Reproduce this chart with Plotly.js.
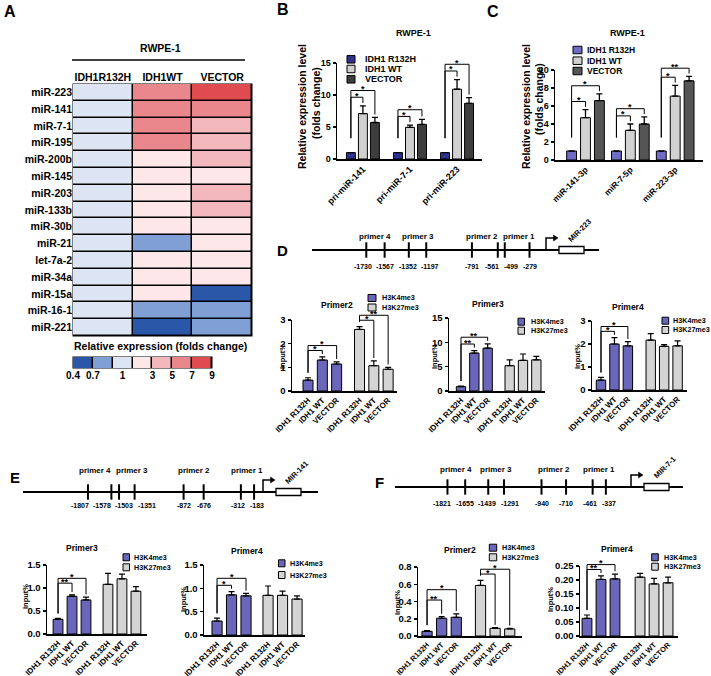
<!DOCTYPE html>
<html><head><meta charset="utf-8">
<script src="https://cdn.plot.ly/plotly-3.0.1.min.js"></script>
<style>html,body{margin:0;padding:0;background:#fff}#chart{width:711px;height:676px}</style>
</head><body><div id="chart"></div>
<script>
// ================= DATA =================
// Panel A heatmap (fold change, RWPE-1)
const heatRows = ['miR-223','miR-141','miR-7-1','miR-195','miR-200b','miR-145','miR-203','miR-133b','miR-30b','miR-21','let-7a-2','miR-34a','miR-15a','miR-16-1','miR-221'];
const heatCols = ['IDH1R132H','IDH1WT','VECTOR'];
const foldR132H = [1,1,1,1,1,1,1,1,1,1,1,1,1,1,1];
const foldWT    = [7,7,7,7,3,3,3,3,3,0.7,3,3,3,0.7,0.4];
const foldVEC   = [9,7,5,5,5,3,5,5,3,3,3,3,0.4,0.7,0.7];
const foldLevels = [0.4,0.7,1,3,5,7,9];
const foldLevelLabels = ['0.4','0.7','1','3','5','7','9'];
const foldColors = ['#2b57a9','#809fd4','#dde5f4','#fde7e9','#f2b8bc','#e9878c','#e04b4f'];

// Panel B (pri-miRNA)
const exprSeries = ['IDH1 R132H','IDH1 WT','VECTOR'];
const bCats = ['pri-miR-141','pri-miR-7-1','pri-miR-223'];
const bR132H = [1,1,1],        bR132Herr = [0,0,0];
const bWT   = [7.1,4.95,10.9], bWTerr  = [1.2,0.35,1.5];
const bVEC  = [5.7,5.4,8.7],   bVECerr = [0.8,0.8,0.9];
const bSig  = [['*','*'],['*','*'],['*','*']];

// Panel C (mature miRNA)
const cCats = ['miR-141-3p','miR-7-5p','miR-223-3p'];
const cR132H = [1,1,1],       cR132Herr = [0,0,0];
const cWT   = [4.7,3.3,7.1],  cWTerr  = [0.9,0.7,1.2];
const cVEC  = [6.6,4.0,8.8],  cVECerr = [0.75,0.8,0.5];
const cSig  = [['*','*'],['*','*'],['*','**']];

// ChIP panels
const chipLabels = ['IDH1 R132H','IDH1 WT','VECTOR'];
const chipSeries = ['H3K4me3','H3K27me3'];
const primerNames = ['primer 4','primer 3','primer 2','primer 1'];

// D: MIR-223 promoter
const dSites = [-1730,-1567,-1352,-1197,-791,-561,-499,-279];
const dP2K4 = [0.46,1.31,1.14],  dP2K4err = [0.1,0.13,0.09];
const dP2K27 = [2.6,1.07,0.92],  dP2K27err = [0.12,0.2,0.08];
const dP2Sig = [['*','*'],['*','**']];
const dP3K4 = [0.9,7.8,8.8],     dP3K4err = [0.1,0.5,0.9];
const dP3K27 = [5.2,6.3,6.4],    dP3K27err = [1.2,1.3,0.7];
const dP3Sig = [['**','**'],null];
const dP4K4 = [0.43,2.0,1.92],   dP4K4err = [0.12,0.28,0.18];
const dP4K27 = [2.17,1.9,1.92],  dP4K27err = [0.28,0.07,0.22];
const dP4Sig = [['*','*'],null];

// E: MIR-141 promoter
const eSites = [-1807,-1578,-1503,-1351,-872,-676,-312,-183];
const eP3K4 = [0.32,0.82,0.74],  eP3K4err = [0.02,0.03,0.06];
const eP3K27 = [1.08,1.2,0.93],  eP3K27err = [0.24,0.1,0.1];
const eP3Sig = [['**','*'],null];
const eP4K4 = [0.3,0.86,0.84],   eP4K4err = [0.06,0.07,0.05];
const eP4K27 = [0.85,0.85,0.77], eP4K27err = [0.2,0.09,0.07];
const eP4Sig = [['*','*'],null];

// F: MIR-7-1 promoter
const fSites = [-1821,-1655,-1439,-1291,-940,-710,-461,-337];
const fP2K4 = [0.054,0.206,0.217], fP2K4err = [0.008,0.019,0.04];
const fP2K27 = [0.586,0.089,0.082], fP2K27err = [0.06,0.008,0.007];
const fP2Sig = [['**','*'],['*','*']];
const fP4K4 = [0.063,0.202,0.204], fP4K4err = [0.012,0.013,0.017];
const fP4K27 = [0.21,0.186,0.19],  fP4K27err = [0.014,0.02,0.02];
const fP4Sig = [['**','*'],null];

// ================= HELPERS =================
const W=711,H=676;
const px=x=>x/W, py=y=>1-y/H;
const FONT='Liberation Sans, Arial, Helvetica, sans-serif';
const font=(s)=>({family:FONT,size:s,color:'#000',weight:'bold'});
const layout={width:W,height:H,margin:{l:0,r:0,t:0,b:0},showlegend:false,
  paper_bgcolor:'#fff',plot_bgcolor:'rgba(0,0,0,0)',font:font(10),shapes:[],annotations:[]};
const traces=[];
let axN=0;
const clamp=v=>Math.max(0,Math.min(1,v));
function newAxes(xd,yd,xo,yo){
  axN++; const s=axN===1?'':String(axN);
  layout['xaxis'+s]=Object.assign({domain:[clamp(px(xd[0])),clamp(px(xd[1]))],anchor:'y'+s,fixedrange:true},xo);
  layout['yaxis'+s]=Object.assign({domain:[clamp(py(yd[1])),clamp(py(yd[0]))],anchor:'x'+s,fixedrange:true},yo);
  return {x:'x'+s,y:'y'+s};
}
function txt(x,y,t,size,o){
  layout.annotations.push(Object.assign({x:px(x),y:py(y),xref:'paper',yref:'paper',text:t,showarrow:false,
    font:font(size),xanchor:'center',yanchor:'middle'},o||{}));
}
function lineS(x0,y0,x1,y1,w){
  layout.shapes.push({type:'line',xref:'paper',yref:'paper',x0:px(x0),y0:py(y0),x1:px(x1),y1:py(y1),line:{color:'#000',width:w||1}});
}
function rectS(x0,y0,x1,y1,fill,lw,layer){
  layout.shapes.push({type:'rect',xref:'paper',yref:'paper',x0:px(x0),y0:py(y0),x1:px(x1),y1:py(y1),
    fillcolor:fill,line:{color:'#000',width:lw===undefined?1:lw},layer:layer||'above'});
}
// push labels apart so they do not overlap (keeps order)
function spread(xs,widths,gap){
  const idx=xs.map((x,i)=>i).sort((a,b)=>xs[a]-xs[b]);
  const p=xs.slice();
  for(let it=0;it<300;it++){
    let moved=false;
    for(let k=0;k<idx.length-1;k++){
      const a=idx[k],b=idx[k+1];
      const need=(widths[a]+widths[b])/2+gap, d=p[b]-p[a];
      if(d<need-0.01){const s=(need-d)/2;p[a]-=s;p[b]+=s;moved=true;}
    }
    if(!moved) break;
  }
  return p;
}
const xBase={showline:true,linecolor:'#000',linewidth:1.5,ticks:'',showgrid:false,zeroline:false,tickangle:-45};
const yBase={showline:true,linecolor:'#000',linewidth:1.5,ticks:'outside',ticklen:3,tickwidth:1.5,tickcolor:'#000',
  showgrid:false,zeroline:false};
function mapX(c,v){return c.x0+(v-c.xr[0])/(c.xr[1]-c.xr[0])*(c.x1-c.x0);}
function mapY(c,v){return c.yBot-v/c.ymax*(c.yBot-c.yTop);}
function brackets(c,xs,tops,labels,o){
  const R=c.ymax;
  const h1=Math.max(tops[0],tops[1])+o.pad*R;
  const h2=Math.max(h1+o.step*R,Math.max(tops[0],tops[2])+o.pad*R);
  const hs=[h1,h2];
  const leftEnd=tops[0]+o.ld*R;
  [1,2].forEach((j,k)=>{
    if(!labels[k]) return;
    const xl=mapX(c,xs[0]),xr=mapX(c,xs[j]);
    const yh=mapY(c,hs[k]),yl=mapY(c,Math.min(leftEnd,hs[k])),yr=mapY(c,Math.min(tops[j]+o.rd*R,hs[k]));
    layout.shapes.push({type:'path',xref:'paper',yref:'paper',
      path:`M${px(xl)},${py(yl)} L${px(xl)},${py(yh)} L${px(xr)},${py(yh)} L${px(xr)},${py(yr)}`,
      line:{color:'#000',width:1}});
    txt((xl+xr)/2,yh-1.5,labels[k],9);
  });
}
function legendBox(x0,x1,ys,tx,items,fs,sh){
  items.forEach((it,i)=>{
    rectS(x0,ys[i]-sh/2,x1,ys[i]+sh/2,it.color,1);
    txt(tx,ys[i],it.name,fs,{xanchor:'left'});
  });
}
function errY(e,th,w){return {type:'data',array:e,arrayminus:e.map(()=>0),symmetric:false,color:'#000',thickness:th||1.2,width:w||3};}

function exprChart(c){
  const ax=newAxes([c.x0,c.x1],[c.yTop,c.yBot],
    Object.assign({},xBase,{type:'category',range:c.xr,tickfont:font(c.xfs)}),
    Object.assign({},yBase,{range:[0,c.ymax],dtick:c.dtick,tickfont:font(c.yfs)}));
  c.series.forEach((s,i)=>{
    traces.push({type:'bar',x:c.cats,y:s.v,width:c.bw,offset:(i-1)*c.slot-c.bw/2,xaxis:ax.x,yaxis:ax.y,
      marker:{color:s.color,line:{color:'#000',width:1}},error_y:errY(s.e,1.3,3),hoverinfo:'skip'});
  });
  c.cats.forEach((cat,g)=>{
    const xs=[0,1,2].map(i=>g+(i-1)*c.slot);
    const tops=c.series.map(s=>s.v[g]+s.e[g]);
    brackets(c,xs,tops,c.sig[g],c.bo);
  });
}
const K4C='#6a67bb', GREYC='#d4d4d4';
function chipChart(c){
  const pos=[[0,1,2],[0,1,2].map(v=>v+c.gs)];
  const ax=newAxes([c.x0,c.x1],[c.yTop,c.yBot],
    Object.assign({},xBase,{range:c.xr,tickmode:'array',tickvals:pos[0].concat(pos[1]),
      ticktext:chipLabels.concat(chipLabels),tickfont:font(c.xfs)}),
    Object.assign({},yBase,{range:[0,c.ymax],dtick:c.dtick,tickformat:c.fmt,tickfont:font(c.yfs)}));
  const ser=[{v:c.k4,e:c.k4e,color:K4C},{v:c.k27,e:c.k27e,color:GREYC}];
  ser.forEach((s,g)=>{
    traces.push({type:'bar',x:pos[g],y:s.v,width:0.7,offset:-0.35,xaxis:ax.x,yaxis:ax.y,
      marker:{color:s.color,line:{color:'#000',width:1}},error_y:errY(s.e,1.2,3),hoverinfo:'skip'});
    if(c.sig[g]) brackets(c,pos[g],s.v.map((v,i)=>v+s.e[i]),c.sig[g],(c.bo&&c.bo[g])||BO_CHIP);
  });
  txt(c.title[0],c.title[1],c.name,8.5);
  txt(c.yt[0],c.yt[1],'Input%',7.5,{textangle:-90});
  legendBox(c.leg[0],c.leg[1],c.leg[2],c.leg[3],[{name:chipSeries[0],color:K4C},{name:chipSeries[1],color:GREYC}],7.2,7);
}
const BO_EXPR={pad:0.09,step:0.07,ld:0.15,rd:0.03};
const BO_CHIP={pad:0.09,step:0.07,ld:0.07,rd:0.04};

function schematic(c){
  const ax=newAxes([c.x0,c.x1],[c.y-8,c.y+8],{range:c.bpRange,visible:false},{range:[-1,1],visible:false});
  const bp2px=v=>c.x0+(v-c.bpRange[0])/(c.bpRange[1]-c.bpRange[0])*(c.x1-c.x0);
  lineS(c.x0,c.y,c.x1,c.y,2);
  traces.push({type:'scatter',mode:'markers',x:c.sites,y:c.sites.map(()=>0),xaxis:ax.x,yaxis:ax.y,cliponaxis:false,
    marker:{symbol:'line-ns',size:11,color:'#000',line:{width:2,color:'#000'}},hoverinfo:'skip'});
  const sLab=c.sites.map(s=>String(s));
  const sPos=spread(c.sites.map(bp2px),sLab.map(t=>t.length*3.9),3);
  sLab.forEach((t,i)=>txt(sPos[i],c.y+c.sdy,t,7));
  const pPos=spread(primerNames.map((p,k)=>bp2px((c.sites[2*k]+c.sites[2*k+1])/2)),primerNames.map(()=>31),6);
  primerNames.forEach((p,k)=>txt(pPos[k],c.y+c.pdy,p,8));
  const t=c.tss,yy=c.y;
  layout.shapes.push({type:'path',xref:'paper',yref:'paper',
    path:`M${px(t)},${py(yy)} L${px(t)},${py(yy-12)} L${px(t+9)},${py(yy-12)}`,line:{color:'#000',width:1.5}});
  layout.shapes.push({type:'path',xref:'paper',yref:'paper',
    path:`M${px(t+12)},${py(yy-12)} L${px(t+7.5)},${py(yy-15)} L${px(t+7.5)},${py(yy-9)} Z`,fillcolor:'#000',line:{color:'#000',width:0.5}});
  rectS(t+13,yy-3.5,t+38,yy+3.5,'#fff',1.3);
  txt(t+33.5,yy-20,c.gene,7.5,{textangle:-45});
  txt(c.letter[0],c.letter[1],c.letter[2],15);
}

// ================= PANEL A =================
txt(10,12,'A',16);
txt(160,48,'RWPE-1',10.5);
lineS(72,60,245,60,1.5);
rectS(72.5,83.5,252.5,336.5,'#000',0,'below');
const hAx=newAxes([73,252],[84,336],
  {type:'category',side:'top',showline:false,showgrid:false,zeroline:false,ticks:'',tickfont:font(10.5)},
  {type:'category',autorange:'reversed',showline:false,showgrid:false,zeroline:false,ticks:'',tickfont:font(10.5)});
const csStep=[];
foldColors.forEach((col,i)=>{csStep.push([i/foldColors.length,col]);csStep.push([(i+1)/foldColors.length,col]);});
const zIdx=heatRows.map((r,i)=>[foldR132H[i],foldWT[i],foldVEC[i]].map(v=>foldLevels.indexOf(v)));
traces.push({type:'heatmap',x:heatCols,y:heatRows,z:zIdx,zmin:-0.5,zmax:foldLevels.length-0.5,colorscale:csStep,
  showscale:false,xgap:1.5,ygap:1.5,xaxis:hAx.x,yaxis:hAx.y,hoverinfo:'skip'});
txt(160,346,'Relative expression (folds change)',10.5);
rectS(72.5,356.5,212.5,368.5,'#000',0,'below');
const cbAx=newAxes([73,212],[357,368],
  {range:[-0.5,foldLevels.length-0.5],tickmode:'array',tickvals:[-0.5,0.5,2,3.5,4.5,5.5,6.5],ticktext:foldLevelLabels,
   ticks:'',showline:false,showgrid:false,zeroline:false,tickfont:font(10)},
  {range:[-0.5,0.5],visible:false});
traces.push({type:'heatmap',x:foldLevels.map((v,i)=>i),y:[0],z:[foldLevels.map((v,i)=>i)],zmin:-0.5,zmax:foldLevels.length-0.5,
  colorscale:csStep,showscale:false,xgap:1.5,ygap:0,xaxis:cbAx.x,yaxis:cbAx.y,hoverinfo:'skip'});

// ================= PANEL B =================
txt(283,10,'B',16);
txt(413,33,'RWPE-1',9);
const bCfg={x0:337,x1:482,yTop:63,yBot:159,xr:[-0.55,2.53],ymax:15,dtick:5,slot:0.255,bw:0.19,xfs:9,yfs:9,
  cats:bCats,series:[{v:bR132H,e:bR132Herr,color:'#2e318f'},{v:bWT,e:bWTerr,color:'#d0d0d0'},{v:bVEC,e:bVECerr,color:'#3d3d3d'}],
  sig:bSig,bo:BO_EXPR};
exprChart(bCfg);
txt(302,107,'Relative expression level',10.5,{textangle:-90});
txt(316,103,'(folds change)',10.5,{textangle:-90});
legendBox(347,355,[59.3,69,79.3],363,exprSeries.map((n,i)=>({name:n,color:bCfg.series[i].color})),9,7.5);

// ================= PANEL C =================
txt(493,12,'C',16);
txt(627,33,'RWPE-1',9);
const cCfg={x0:555,x1:703,yTop:70,yBot:160,xr:[-0.68,2.62],ymax:10,dtick:2,slot:0.31,bw:0.22,xfs:8.5,yfs:9,
  cats:cCats,series:[{v:cR132H,e:cR132Herr,color:'#6e6cc4'},{v:cWT,e:cWTerr,color:'#d2d2d2'},{v:cVEC,e:cVECerr,color:'#555555'}],
  sig:cSig,bo:BO_EXPR};
exprChart(cCfg);
txt(526,107,'Relative expression level',10.5,{textangle:-90});
txt(539,99,'(folds change)',10.5,{textangle:-90});
legendBox(573,582,[50,60.7,71],585,exprSeries.map((n,i)=>({name:n,color:cCfg.series[i].color})),8.5,7.5);

// ================= PANEL D =================
schematic({x0:312,x1:599,y:250,bpRange:[-2212.6,338.7],sites:dSites,tss:546,gene:'MIR-223',sdy:16,pdy:-14,letter:[282,250,'D']});
chipChart({name:'Primer2',x0:292,x1:397,yTop:320,yBot:391,xr:[-1.12,6.22],gs:3.6,ymax:3,dtick:1,fmt:'d',xfs:8,yfs:9.5,
  k4:dP2K4,k4e:dP2K4err,k27:dP2K27,k27e:dP2K27err,sig:dP2Sig,title:[337,305],yt:[282,357],leg:[368,376,[298,307.5],379.5]});
chipChart({name:'Primer3',x0:449,x1:545,yTop:318,yBot:391,xr:[-0.9,6.3],gs:3.65,ymax:15,dtick:5,fmt:'d',xfs:8,yfs:9.5,
  k4:dP3K4,k4e:dP3K4err,k27:dP3K27,k27e:dP3K27err,sig:dP3Sig,title:[488,304],yt:[434,357],leg:[518,524.5,[321.7,330.7],528.5]});
chipChart({name:'Primer4',x0:592,x1:687,yTop:321,yBot:390,xr:[-0.67,6.4],gs:3.7,ymax:3,dtick:1,fmt:'d',xfs:8,yfs:9.5,
  k4:dP4K4,k4e:dP4K4err,k27:dP4K27,k27e:dP4K27err,sig:dP4Sig,title:[628,306.7],yt:[577,357],leg:[662,668.7,[320.7,330],670.5]});

// ================= PANEL E =================
schematic({x0:23,x1:318,y:492,bpRange:[-2442,441.9],sites:eSites,tss:263,gene:'MIR-141',sdy:13,pdy:-21,letter:[15,477,'E']});
chipChart({name:'Primer3',x0:47,x1:147,yTop:565,yBot:634,xr:[-0.79,6.36],gs:3.57,ymax:1.5,dtick:0.5,fmt:'.1f',xfs:8,yfs:9.5,
  k4:eP3K4,k4e:eP3K4err,k27:eP3K27,k27e:eP3K27err,sig:eP3Sig,bo:[{pad:0.17,step:0.07,ld:0.07,rd:0.04}],
  title:[82,548],yt:[25,597],leg:[123,129.5,[557.3,567.3],132]});
chipChart({name:'Primer4',x0:204,x1:305,yTop:565,yBot:635,xr:[-0.9,6.07],gs:3.52,ymax:1.5,dtick:0.5,fmt:'.1f',xfs:8,yfs:9.5,
  k4:eP4K4,k4e:eP4K4err,k27:eP4K27,k27e:eP4K27err,sig:eP4Sig,bo:[{pad:0.09,step:0.1,ld:0.07,rd:0.04}],
  title:[247,551],yt:[183,600],leg:[278.5,285,[563.3,575],287.5]});

// ================= PANEL F =================
schematic({x0:395,x1:683,y:487,bpRange:[-2312.4,385.5],sites:fSites,tss:631,gene:'MIR-7-1',sdy:16,pdy:-18,letter:[380,482,'F']});
chipChart({name:'Primer2',x0:418,x1:522,yTop:567,yBot:636,xr:[-0.62,6.5],gs:3.66,ymax:0.8,dtick:0.2,fmt:'.1f',xfs:7.5,yfs:9.5,
  k4:fP2K4,k4e:fP2K4err,k27:fP2K27,k27e:fP2K27err,sig:fP2Sig,bo:[{pad:0.24,step:0.15,ld:0.08,rd:0.04},BO_CHIP],
  title:[460,550],yt:[397,603],leg:[489.3,496.7,[547.7,557.3],500]});
chipChart({name:'Primer4',x0:580,x1:678,yTop:566,yBot:636,xr:[-0.5,6.5],gs:3.79,ymax:0.25,dtick:0.05,fmt:'.2f',xfs:7.5,yfs:9.5,
  k4:fP4K4,k4e:fP4K4err,k27:fP4K27,k27e:fP4K27err,sig:fP4Sig,
  title:[617,549.3],yt:[550,600],leg:[651.7,658.3,[557.3,566.7],661.7]});

Plotly.newPlot('chart',traces,layout,{staticPlot:true,displayModeBar:false});
</script></body></html>
